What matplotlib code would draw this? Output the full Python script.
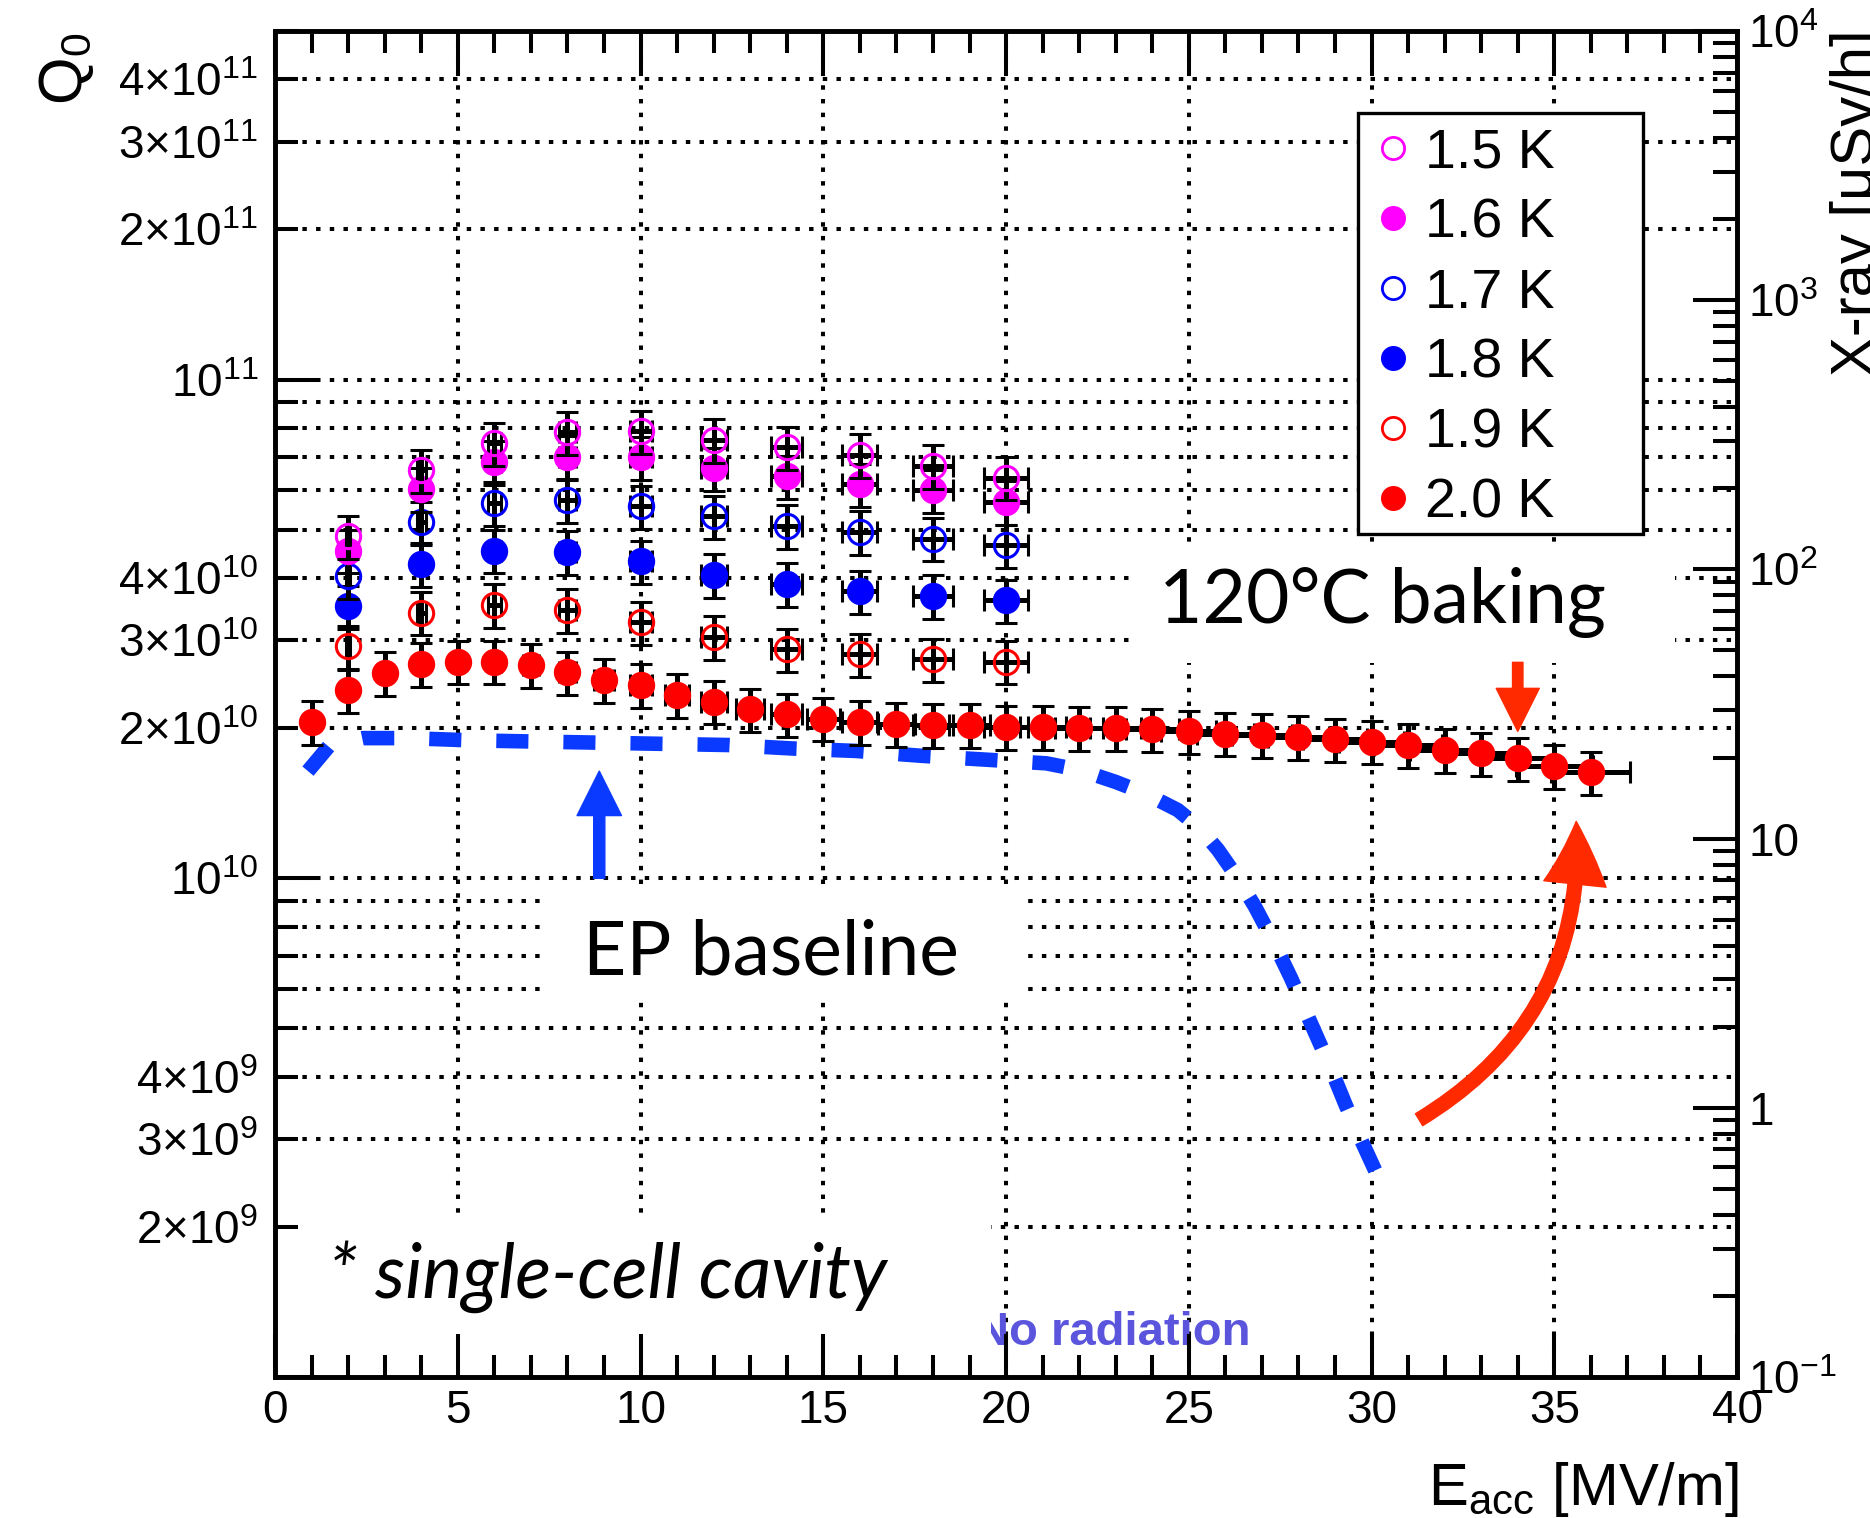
import numpy as np
import matplotlib
matplotlib.use("Agg")
import matplotlib.pyplot as plt
from matplotlib.patches import Rectangle, FancyArrowPatch
from matplotlib.ticker import LogLocator, FuncFormatter, MultipleLocator, NullFormatter

plt.rcParams.update({
    "font.family": "Liberation Sans",
    "mathtext.fontset": "custom",
    "mathtext.rm": "Liberation Sans",
    "mathtext.it": "Liberation Sans:italic",
    "mathtext.bf": "Liberation Sans:bold",
})

# ---- data ----
E_20K = [1, 2, 3, 4, 5, 6, 7, 8, 9, 10, 11, 12, 13, 14, 15, 16, 17, 18,
         19, 20, 21, 22, 23, 24, 25, 26, 27, 28, 29, 30, 31, 32, 33, 34, 35, 36]
Q_20K = [2.06, 2.38, 2.58, 2.69, 2.72, 2.72, 2.68, 2.59, 2.50, 2.44, 2.33, 2.26,
         2.18, 2.13, 2.09, 2.06, 2.04, 2.03, 2.03, 2.01, 2.01, 2.00, 2.00, 1.99,
         1.97, 1.95, 1.94, 1.92, 1.90, 1.88, 1.85, 1.81, 1.78, 1.74, 1.68, 1.63]  # x1e10

E_LOW = [2, 4, 6, 8, 10, 12, 14, 16, 18, 20]
Q_15K = [4.85, 6.58, 7.45, 7.84, 7.87, 7.57, 7.31, 7.06, 6.71, 6.36]
Q_16K = [4.54, 6.04, 6.84, 7.00, 6.98, 6.64, 6.40, 6.16, 6.00, 5.69]
Q_17K = [4.04, 5.17, 5.66, 5.74, 5.57, 5.32, 5.09, 4.95, 4.80, 4.65]
Q_18K = [3.51, 4.27, 4.54, 4.51, 4.32, 4.06, 3.89, 3.76, 3.68, 3.61]
Q_19K = [2.92, 3.41, 3.53, 3.45, 3.26, 3.05, 2.88, 2.81, 2.75, 2.72]

Q_REL_ERR = 0.10   # vertical bars ~ +-10 %
E_REL_ERR = 0.03   # horizontal bars ~ +-3 %

# EP baseline curve (dashed blue)
EP_E = [0.9, 1.5, 2.4, 3.6, 5.4, 7.1, 8.9, 10.6, 12.4, 14.2, 15.9, 17.7, 19.4,
        21.1, 22.0, 23.0, 23.8, 24.7, 25.3, 25.8, 26.3, 26.8, 27.3, 27.8, 28.3,
        28.8, 29.3, 29.75, 30.2]
EP_Q = [1.64, 1.85, 1.91, 1.91, 1.89, 1.88, 1.87, 1.86, 1.85, 1.82, 1.80, 1.76, 1.73,
        1.70, 1.65, 1.56, 1.48, 1.37, 1.26, 1.14, 1.01, 0.88, 0.75, 0.63, 0.52,
        0.43, 0.35, 0.295, 0.25]  # x1e10

labels = ["1.5 K", "1.6 K", "1.7 K", "1.8 K", "1.9 K", "2.0 K"]
series_E = [E_LOW, E_LOW, E_LOW, E_LOW, E_LOW, E_20K]
series_Q = [Q_15K, Q_16K, Q_17K, Q_18K, Q_19K, Q_20K]
MAG, BLU, RED = "#FF00FF", "#0000FF", "#FF0000"
colors = [MAG, MAG, BLU, BLU, RED, RED]
filled = [False, True, False, True, False, True]

C_EP = "#0A3AFF"
C_ARR = "#FF2A00"
C_NORAD = "#5A55DC"

# ---- figure ----
fig = plt.figure(figsize=(18.7, 15.18), dpi=100)
ax = fig.add_axes([0.1471, 0.0929, 0.7818, 0.8867])
ax.set_yscale("log")
ax.set_xlim(0, 40)
ax.set_ylim(1e9, 5e11)

# dotted grid (drawn by hand so the white label boxes can hide it, ticks stay on top)
gkw = dict(color="black", lw=2.9, ls=(0, (1.1, 2.3)), zorder=0.8)
for xv in range(5, 40, 5):
    ax.axvline(xv, **gkw)
for dec in [1e9, 1e10, 1e11]:
    for m in range(1, 10):
        v = m * dec
        if 1e9 < v < 5e11:
            ax.axhline(v, **gkw)

ax.text(19.15, 1.16e9, "No radiation", color=C_NORAD, fontsize=34, fontweight="bold",
        ha="left", va="baseline", zorder=1.0)

# white backgrounds behind the annotations
for (x0, x1, y0, y1) in [(0, 19.6, 1e9, 2.1e9), (7.3, 20.47, 5.7e9, 9.7e9),
                         (23.58, 38.3, 2.70e10, 4.66e10)]:
    ax.add_patch(Rectangle((x0, y0), x1 - x0, y1 - y0, facecolor="white",
                           edgecolor="none", zorder=1.2))

# EP baseline
ax.plot(EP_E, np.array(EP_Q) * 1e10, color=C_EP, lw=10.5, ls=(0, (2.2, 2.4)),
        dash_capstyle="butt", zorder=2.5)

# data with error bars (2.0 K first, 1.5 K last)
for k, i in enumerate([5, 4, 3, 2, 1, 0]):
    E = np.array(series_E[i], dtype=float)
    Q = np.array(series_Q[i]) * 1e10
    ax.errorbar(E, Q, yerr=Q * Q_REL_ERR, xerr=E * E_REL_ERR, fmt="o", ms=17.5,
                mfc=colors[i] if filled[i] else "none", mec=colors[i], mew=2.2,
                ecolor="black", elinewidth=3.6, capsize=8, capthick=5.0,
                zorder=3 + 0.2 * k)

# arrows
ax.add_patch(FancyArrowPatch((8.87, 1.0e10), (8.87, 1.64e10),
             arrowstyle="simple,head_length=3.2,head_width=3.2,tail_width=0.8",
             mutation_scale=10, color=C_EP, shrinkA=0, shrinkB=0, zorder=5))
ax.add_patch(FancyArrowPatch((34, 2.71e10), (34, 1.97e10),
             arrowstyle="simple,head_length=3.1,head_width=3.1,tail_width=0.75",
             mutation_scale=10, color=C_ARR, shrinkA=0, shrinkB=0, zorder=5))
ax.add_patch(FancyArrowPatch((31.3, 3.28e9), (35.6, 1.30e10),
             connectionstyle="arc3,rad=0.3",
             arrowstyle="simple,head_length=4.5,head_width=4.5,tail_width=1.0",
             mutation_scale=10, color=C_ARR, shrinkA=0, shrinkB=0, zorder=5))

# annotations
ax.text(30.3, 3.25e10, "120°C baking", fontsize=54, family="Lato",
        ha="center", va="baseline", zorder=6)
ax.text(13.58, 6.4e9, "EP baseline", fontsize=54, family="Lato",
        ha="center", va="baseline", zorder=6)
ax.text(1.45, 1.445e9, "* single-cell cavity", fontsize=54, family="Lato",
        style="italic", ha="left", va="baseline", zorder=6)

# legend (ROOT style box)
ax.add_patch(Rectangle((0.7408, 0.6263), 0.1949, 0.3128, transform=ax.transAxes,
                       facecolor="white", edgecolor="black", lw=2.4, zorder=7))
for i, lab in enumerate(labels):
    yy = 0.9131 - 0.052 * i
    ax.plot([0.7646], [yy], "o", transform=ax.transAxes, ms=16,
            mfc=colors[i] if filled[i] else "none", mec=colors[i], mew=2.0,
            zorder=8, clip_on=False)
    ax.text(0.7865, yy, lab, transform=ax.transAxes, fontsize=40,
            ha="left", va="center_baseline", zorder=8)

# ---- axes / ticks ----
def q_major(v, pos):
    e = round(np.log10(v))
    return r"$10^{%d}$" % e if e > 9 else ""

def q_minor(v, pos):
    e = int(np.floor(np.log10(v) + 1e-9))
    m = round(v / 10 ** e)
    if m in (2, 3, 4):
        return r"$%d{\times}10^{%d}$" % (m, e)
    return ""

ax.yaxis.set_major_locator(LogLocator(base=10))
ax.yaxis.set_minor_locator(LogLocator(base=10, subs=np.arange(2, 10)))
ax.yaxis.set_major_formatter(FuncFormatter(q_major))
ax.yaxis.set_minor_formatter(FuncFormatter(q_minor))
ax.xaxis.set_major_locator(MultipleLocator(5))
ax.xaxis.set_minor_locator(MultipleLocator(1))

ax.tick_params(axis="x", which="both", direction="in", top=True, bottom=True,
               width=2.9, labelsize=33, pad=9)
ax.tick_params(axis="x", which="major", length=31)
ax.tick_params(axis="x", which="minor", length=15.5)
ax.tick_params(axis="y", which="both", direction="in", left=True, right=False,
               width=2.9, labelsize=33, pad=12)
ax.tick_params(axis="y", which="major", length=30)
ax.tick_params(axis="y", which="minor", length=16.5)

ax2 = ax.twinx()
ax2.set_yscale("log")
ax2.set_ylim(0.1, 1e4)

def x_major(v, pos):
    e = round(np.log10(v))
    if e == 0:
        return "1"
    if e == 1:
        return "10"
    return r"$10^{%d}$" % e

ax2.yaxis.set_major_locator(LogLocator(base=10))
ax2.yaxis.set_minor_locator(LogLocator(base=10, subs=np.arange(2, 10)))
ax2.yaxis.set_major_formatter(FuncFormatter(x_major))
ax2.yaxis.set_minor_formatter(NullFormatter())
ax2.tick_params(axis="y", which="both", direction="in", right=True, left=False,
                width=2.9, labelsize=33, pad=8)
ax2.tick_params(axis="y", which="major", length=32)
ax2.tick_params(axis="y", which="minor", length=17)

for a in (ax, ax2):
    for s in a.spines.values():
        s.set_linewidth(3.3)

# axis titles (ROOT style: at the ends of the axes)
fig.text(1739 / 1870, 1 - 1505 / 1518, r"E$_{\rm acc}$ [MV/m]", fontsize=43,
         ha="right", va="baseline")
fig.text(37 / 1870, 1 - 33 / 1518, r"Q$_0$", fontsize=44, rotation=90,
         ha="left", va="top")
fig.text(1830 / 1870, 1 - 29 / 1518, "X-ray [μSv/h]", fontsize=43, rotation=90,
         ha="left", va="top")

fig.savefig("out.png", dpi=100)
